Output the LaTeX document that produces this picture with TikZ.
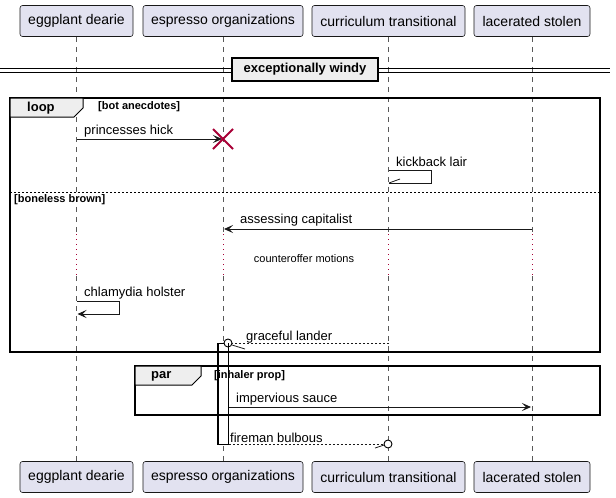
\documentclass[tikz,border=0pt]{standalone}
\usepackage{fontspec}
\setmainfont{Liberation Sans}
\usetikzlibrary{arrows.meta}
\definecolor{partfill}{HTML}{E2E2F0}
\definecolor{partline}{HTML}{181818}
\definecolor{tabfill}{HTML}{EEEEEE}
\definecolor{crim}{HTML}{A80036}
\tikzset{
  part/.style={draw=partline, fill=partfill, rounded corners=2.5pt, line width=0.6pt,
    minimum height=31pt, inner sep=0pt, font=\fontsize{14}{16}\selectfont},
  life/.style={draw=black!65, line width=0.6pt, dash pattern=on 5pt off 5pt},
  delayline/.style={draw=crim, line width=0.8pt, dash pattern=on 1pt off 4pt},
  msg/.style={draw=black!90, line width=0.9pt},
  retmsg/.style={draw=black!90, line width=0.8pt, dash pattern=on 2pt off 2pt},
  tip/.style={-{Stealth[length=9pt,width=8pt,inset=4pt]}},
  msgtext/.style={anchor=west, inner sep=0pt, font=\fontsize{13}{15}\selectfont, yshift=-1.5pt},
  framebox/.style={draw=black, line width=1.5pt},
  tabshape/.style={draw=black, fill=tabfill, line width=1pt},
  tabtext/.style={anchor=west, inner sep=0pt, font=\bfseries\fontsize{13}{15}\selectfont},
  guardtext/.style={anchor=west, inner sep=0pt, font=\bfseries\fontsize{11}{13}\selectfont},
  actbox/.style={draw=black, fill=white, line width=0.9pt},
  endcirc/.style={draw=black, fill=white, line width=0.9pt, circle, inner sep=0pt, minimum size=8pt},
}
\begin{document}
\begin{tikzpicture}[x=1pt,y=-1pt]
\useasboundingbox (0,0) rectangle (616,498);

% participants
\node[part, minimum width=113pt] (pe) at (76.5,21) {eggplant dearie};
\node[part, minimum width=160pt] (ps) at (223,21) {espresso organizations};
\node[part, minimum width=153pt] (pc) at (388.5,21) {curriculum transitional};
\node[part, minimum width=116pt] (pl) at (532,21) {lacerated stolen};
\node[part, minimum width=113pt] (be) at (76.5,477) {eggplant dearie};
\node[part, minimum width=160pt] (bs) at (223,477) {espresso organizations};
\node[part, minimum width=153pt] (bc) at (388.5,477) {curriculum transitional};
\node[part, minimum width=116pt] (bl) at (532,477) {lacerated stolen};

% delay coordinates
\foreach \n/\x in {e/76.5, s/223, c/388.5, l/532} {
  \coordinate (\n1) at (\x,234);
  \coordinate (\n2) at (\x,276);
}
% lifelines
\draw[life] (pe.south) -- (e1); \draw[delayline] (e1) -- (e2); \draw[life] (e2) -- (be.north);
\draw[life] (ps.south) -- (s1); \draw[delayline] (s1) -- (s2); \draw[life] (s2) -- (bs.north);
\draw[life] (pc.south) -- (c1); \draw[delayline] (c1) -- (c2); \draw[life] (c2) -- (bc.north);
\draw[life] (pl.south) -- (l1); \draw[delayline] (l1) -- (l2); \draw[life] (l2) -- (bl.north);

% activation box (under frames and texts)
\node[actbox, minimum width=10pt, minimum height=101pt, inner sep=0pt, anchor=north] (act) at (223.3,343) {};

% divider
\coordinate (dl1) at (0,68.5); \coordinate (dr1) at (610,68.5);
\coordinate (dl2) at (0,72); \coordinate (dr2) at (610,72);
\draw[line width=0.9pt] (dl1) -- (dr1);
\draw[line width=0.9pt] (dl2) -- (dr2);
\node[draw=black, fill=tabfill, line width=1.5pt, minimum width=146pt, minimum height=23pt,
  inner sep=0pt, font=\bfseries\fontsize{13}{15}\selectfont] (div) at (305,69.5) {exceptionally windy};

% loop frame
\coordinate (lf1) at (10,98); \coordinate (lf2) at (600,352);
\draw[framebox] (lf1) rectangle (lf2);
\draw[tabshape] (10,98) -- (83,98) -- (83,108) -- (74,117) -- (10,117) -- cycle;
\node[tabtext] (looplbl) at (27,108) {loop};
\node[guardtext] (g1) at (98,107) {[bot anecdotes]};
\coordinate (sep1) at (10,192); \coordinate (sep2) at (600,192);
\draw[line width=0.8pt, dash pattern=on 2pt off 2pt] (sep1) -- (sep2);
\node[guardtext] (g2) at (14,200) {[boneless brown]};

% princesses hick
\coordinate (m1a) at (77,139); \coordinate (m1b) at (222,139);
\draw[msg, tip] (m1a) -- (m1b);
\node[msgtext] (t1) at (84,130) {princesses hick};
\coordinate (x0) at (223,139);
\draw[crim, line width=1.8pt] ([shift={(-10,-10)}]x0) -- ([shift={(10,10)}]x0);
\draw[crim, line width=1.8pt] ([shift={(-10,10)}]x0) -- ([shift={(10,-10)}]x0);

% kickback lair
\coordinate (k1) at (389,170); \coordinate (k2) at (431,170);
\coordinate (k3) at (431,183); \coordinate (k4) at (389,183); \coordinate (k5) at (400,179);
\draw[msg] (k1) -- (k2) -- (k3) -- (k4);
\draw[msg, line width=0.8pt] (k4) -- (k5);
\node[msgtext] (t2) at (396,160) {kickback lair};

% assessing capitalist
\coordinate (m3a) at (532,229); \coordinate (m3b) at (224,229);
\draw[msg, tip] (m3a) -- (m3b);
\node[msgtext] (t3) at (240,219) {assessing capitalist};

% delay text
\node[inner sep=0pt, font=\fontsize{11}{13}\selectfont] (dly) at (304,259) {counteroffer motions};

% chlamydia holster
\coordinate (h1) at (77,301); \coordinate (h2) at (119,301);
\coordinate (h3) at (119,314); \coordinate (h4) at (77.5,314);
\draw[msg, tip] (h1) -- (h2) -- (h3) -- (h4);
\node[msgtext] (t4) at (84,292) {chlamydia holster};

% graceful lander
\coordinate (gA) at (389,343);
\node[msgtext] (t5) at (246,336) {graceful lander};
\node[endcirc] (gc) at (228,343) {};
\draw[retmsg] (gA) -- (gc);
\coordinate (gb1) at (232,345); \coordinate (gb2) at (245,349);
\draw[msg, line width=0.8pt] (gb1) -- (gb2);

% par frame
\coordinate (pf1) at (135,366); \coordinate (pf2) at (600,415);
\draw[framebox] (pf1) rectangle (pf2);
\draw[tabshape] (135,366) -- (201,366) -- (201,376) -- (192,385) -- (135,385) -- cycle;
\node[tabtext] (parlbl) at (151,376) {par};
\node[guardtext] (g3) at (214,376) {[inhaler prop]};
% redraw activation outline over par tab area
\draw[black, line width=0.9pt] (act.north west) -- (act.south west);
\draw[black, line width=0.9pt] (act.north east) -- (act.south east);

% impervious sauce
\coordinate (m6b) at (531,407);
\node[msgtext] (t6) at (236,398) {impervious sauce};
\coordinate (m6a) at (act.east |- m6b);
\draw[msg, tip] (m6a) -- (m6b);

% fireman bulbous
\node[msgtext] (t7) at (230,436) {fireman bulbous};
\node[endcirc] (fc) at (388,444) {};
\coordinate (fA) at (act.east |- fc);
\draw[retmsg] (fA) -- (fc);
\coordinate (fb1) at (375,448); \coordinate (fb2) at (384,445);
\draw[msg, line width=0.8pt] (fb1) -- (fb2);
\end{tikzpicture}
\end{document}
